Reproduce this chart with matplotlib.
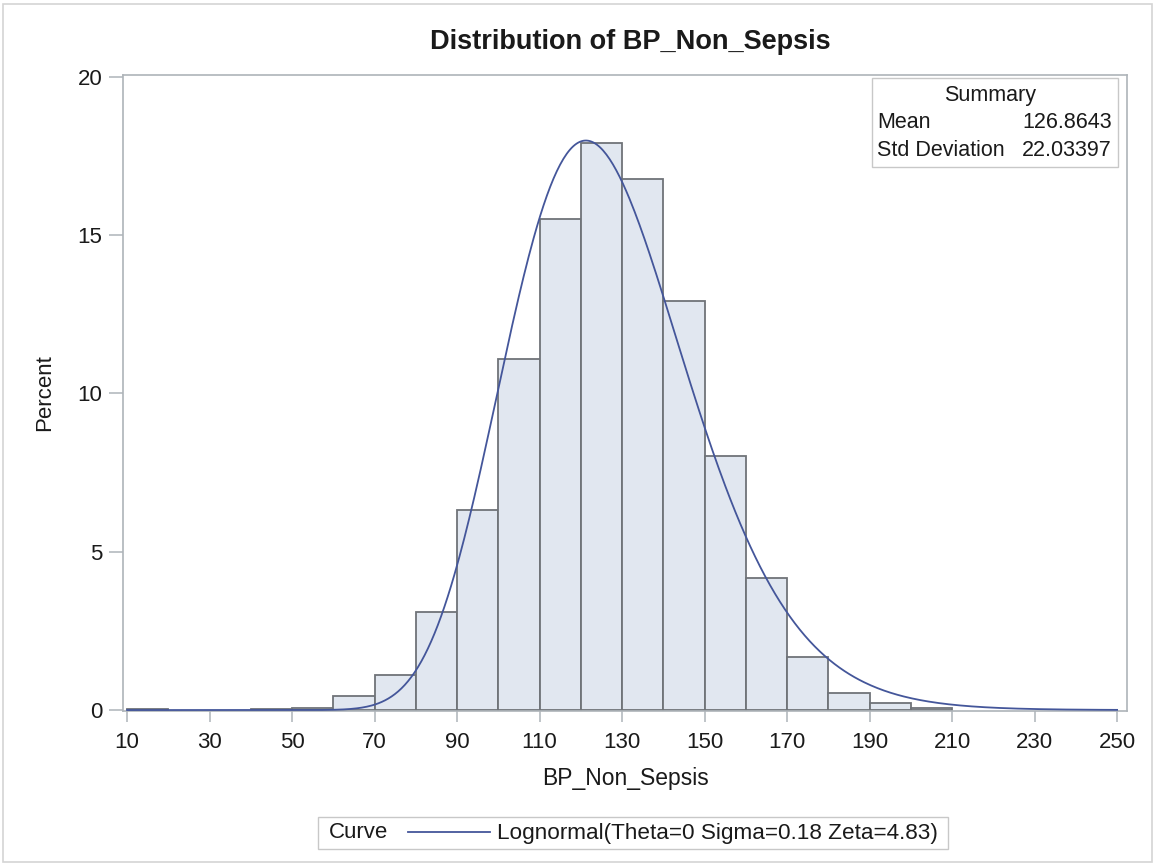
import numpy as np
import matplotlib
matplotlib.use("Agg")
import matplotlib.pyplot as plt
from matplotlib.patches import Rectangle

plt.rcParams['font.family'] = ['Liberation Sans', 'DejaVu Sans']

# ---- data ----
bin_left = [10, 20, 30, 40, 50, 60, 70, 80, 90, 100, 110, 120, 130, 140,
            150, 160, 170, 180, 190, 200, 210, 220, 230, 240]
bin_width = 10
percent = [0.02, 0.0, 0.0, 0.03, 0.08, 0.45, 1.12, 3.09, 6.32, 11.08, 15.50,
           17.90, 16.79, 12.93, 8.03, 4.17, 1.67, 0.53, 0.22, 0.06, 0.0, 0.0,
           0.0, 0.0]
x_ticks = [10, 30, 50, 70, 90, 110, 130, 150, 170, 190, 210, 230, 250]
y_ticks = [0, 5, 10, 15, 20]
theta, sigma, zeta = 0.0, 0.18, 4.83
summary_labels = ["Mean", "Std Deviation"]
summary_values = ["126.8643", "22.03397"]
title = "Distribution of BP_Non_Sepsis"
xlabel = "BP_Non_Sepsis"
ylabel = "Percent"
legend_label = "Lognormal(Theta=0 Sigma=0.18 Zeta=4.83)"

# ---- styles ----
bar_fill = "#E1E7F0"
bar_edge = "#6F7378"
curve_col = "#44569A"
frame_col = "#AEB4B9"
text_col = "#1a1a1a"
fs = 15.5

W, H = 1155, 864
fig = plt.figure(figsize=(W / 100, H / 100), dpi=100)
fig.patch.set_facecolor("white")

# outer border
fig.add_artist(Rectangle((3 / W, 2 / H), (W - 6) / W, (H - 6) / H,
                         transform=fig.transFigure, fill=False,
                         edgecolor="#D4D4D4", lw=1.2))

ax = fig.add_axes([123 / W, 1 - 711 / H, (1127 - 123) / W, (711 - 75) / H])

bl = np.array(bin_left, dtype=float)
pc = np.array(percent, dtype=float)
mask = pc > 0
ax.bar(bl[mask], pc[mask], width=bin_width, align="edge",
       color=bar_fill, edgecolor=bar_edge, linewidth=1.3, zorder=2)

xs = np.linspace(10, 250, 600)
pdf = 1.0 / ((xs - theta) * sigma * np.sqrt(2 * np.pi)) * \
    np.exp(-(np.log(xs - theta) - zeta) ** 2 / (2 * sigma ** 2))
ax.plot(xs, pdf * 100 * bin_width, color=curve_col, lw=1.3, zorder=3)

ax.set_xlim(9.0, 252.4)
ax.set_ylim(-0.03, 20.06)
ax.set_xticks(x_ticks)
ax.set_yticks(y_ticks)
for s in ax.spines.values():
    s.set_color(frame_col)
    s.set_linewidth(1.2)
ax.tick_params(axis="x", direction="out", length=8, width=1.1,
               color=frame_col, labelsize=16, labelcolor=text_col, pad=7)
ax.tick_params(axis="y", direction="out", length=10, width=1.1,
               color=frame_col, labelsize=16, labelcolor=text_col, pad=5)

ax.set_xlabel(xlabel, fontsize=16.5, color=text_col, labelpad=10)
ax.set_ylabel(ylabel, fontsize=16, color=text_col, labelpad=16)
fig.text(630 / W, 1 - 42 / H, title, ha="center", va="center",
         fontsize=19.5, fontweight="bold", color=text_col)

# summary box
fig.add_artist(Rectangle((872 / W, 1 - 167 / H), (1118 - 872) / W, (167 - 78) / H,
                         transform=fig.transFigure, facecolor="white",
                         edgecolor="#C8C8C8", lw=1.0, zorder=5))
fig.text(990 / W, 1 - 96 / H, "Summary", ha="center", va="center",
         fontsize=fs, color=text_col, zorder=6)
rows_y = [123, 150]
for lab, val, yy in zip(summary_labels, summary_values, rows_y):
    fig.text(877 / W, 1 - yy / H, lab, ha="left", va="center",
             fontsize=fs, color=text_col, zorder=6)
    fig.text(1112 / W, 1 - yy / H, val, ha="right", va="center",
             fontsize=fs, color=text_col, zorder=6)

# bottom legend
fig.add_artist(Rectangle((318 / W, 1 - 849 / H), (948 - 318) / W, (849 - 817) / H,
                         transform=fig.transFigure, facecolor="white",
                         edgecolor="#C8C8C8", lw=1.0))
fig.text(329 / W, 1 - 833 / H, "Curve", ha="left", va="center",
         fontsize=16, color=text_col)
fig.add_artist(plt.Line2D([408 / W, 490 / W], [1 - 832 / H, 1 - 832 / H],
                          transform=fig.transFigure, color=curve_col, lw=1.3))
fig.text(497 / W, 1 - 833 / H, legend_label, ha="left", va="center",
         fontsize=16.2, color=text_col)

fig.savefig("out.png", dpi=100)
